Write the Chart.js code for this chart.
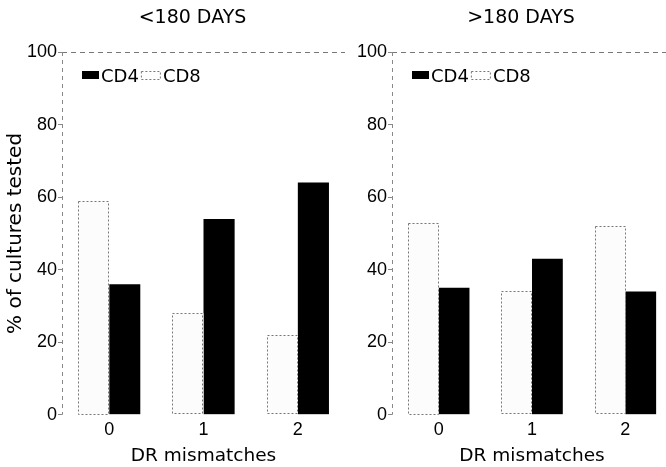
<!DOCTYPE html>
<html lang="en">
<head>
  <meta charset="UTF-8">
  <title>CD4 / CD8 cultures by DR mismatches</title>
  <script src="https://cdn.jsdelivr.net/npm/chart.js"></script>
  <style>
    html, body { margin: 0; padding: 0; background: #fff; }
    body { width: 666px; height: 467px; overflow: hidden; position: relative; }
    .panel { position: absolute; top: 0; height: 467px; }
  </style>
</head>
<body>
  <div class="panel" style="left:0; width:345px;"><canvas id="early"></canvas></div>
  <div class="panel" style="left:330px; width:342px;"><canvas id="late"></canvas></div>

  <script>
    // values (% of cultures tested)
    const mismatches = ['0', '1', '2'];
    const seriesNames = ['CD8', 'CD4'];
    const earlyCD8 = [59, 28, 22];
    const earlyCD4 = [36, 54, 64];
    const lateCD8 = [53, 34, 52];
    const lateCD4 = [35, 43, 34];
    const yTicks = [0, 20, 40, 60, 80, 100];

    Chart.defaults.font.family = '"DejaVu Sans", sans-serif';
    Chart.defaults.color = '#000';
    const digitFont = '"Liberation Sans", sans-serif';

    // dotted outline for the open (CD8) bars
    const dashedOutline = {
      id: 'dashedOutline',
      afterDatasetsDraw(chart) {
        const ctx = chart.ctx;
        chart.data.datasets.forEach((ds, i) => {
          if (!ds.dashed) return;
          chart.getDatasetMeta(i).data.forEach(bar => {
            const { x, y, base, width } = bar.getProps(['x', 'y', 'base', 'width'], true);
            ctx.save();
            ctx.strokeStyle = '#777';
            ctx.lineWidth = 1;
            ctx.setLineDash([2, 2]);
            ctx.strokeRect(Math.round(x - width / 2) + 0.5, Math.round(y) + 0.5,
                           Math.round(width) - 1, Math.round(base - y) - 1);
            ctx.restore();
          });
        });
      }
    };

    // dotted left axis line
    const axisLine = {
      id: 'axisLine',
      beforeDatasetsDraw(chart) {
        const { ctx, chartArea } = chart;
        ctx.save();
        ctx.strokeStyle = '#888';
        ctx.lineWidth = 1;
        ctx.setLineDash([4, 4]);
        ctx.beginPath();
        ctx.moveTo(chartArea.left + 0.5, chartArea.top);
        ctx.lineTo(chartArea.left + 0.5, chartArea.bottom);
        ctx.stroke();
        ctx.restore();
      }
    };

    // panel heading, a little left of the plot centre as in the figure
    const panelHeading = {
      id: 'panelHeading',
      afterDraw(chart, args, opts) {
        const { ctx, chartArea } = chart;
        ctx.save();
        ctx.font = '19px "DejaVu Sans"';
        ctx.textAlign = 'center';
        ctx.textBaseline = 'middle';
        ctx.fillStyle = '#000';
        ctx.fillText(opts.text, (chartArea.left + chartArea.right) / 2 - 11, 18);
        ctx.restore();
      }
    };

    // legend drawn inside the plot, CD4 first
    const innerLegend = {
      id: 'innerLegend',
      afterDraw(chart) {
        const { ctx, chartArea } = chart;
        let x = chartArea.left + 20;
        const y = chartArea.top + 23;
        ctx.save();
        ctx.font = '18px "DejaVu Sans"';
        ctx.textBaseline = 'middle';
        ctx.fillStyle = '#000';
        chart.data.datasets.slice().reverse().forEach(ds => {
          const w = ds.dashed ? 20 : 17;
          if (ds.dashed) {
            ctx.strokeStyle = '#777';
            ctx.lineWidth = 1;
            ctx.setLineDash([2, 2]);
            ctx.strokeRect(x + 0.5, y - 4 + 0.5, w - 1, 8);
            ctx.setLineDash([]);
          } else {
            ctx.fillStyle = ds.backgroundColor;
            ctx.fillRect(x, y - 4, w, 8);
          }
          x += w + 2;
          ctx.fillStyle = '#000';
          ctx.fillText(ds.label, x, y + 2);
          x += ctx.measureText(ds.label).width + 2;
        });
        ctx.restore();
      }
    };

    function makePanel(id, title, cd8, cd4, showYTitle) {
      const ctx = document.getElementById(id).getContext('2d');
      return new Chart(ctx, {
        type: 'bar',
        data: {
          labels: mismatches,
          datasets: [
            {
              label: seriesNames[0],
              data: cd8,
              backgroundColor: '#fcfcfc',
              borderWidth: 0,
              dashed: true
            },
            {
              label: seriesNames[1],
              data: cd4,
              backgroundColor: '#000',
              borderWidth: 0
            }
          ]
        },
        options: {
          responsive: true,
          maintainAspectRatio: false,
          animation: false,
          categoryPercentage: 0.66,
          barPercentage: 1.0,
          layout: { padding: { left: 0, right: 0, top: 52, bottom: 0 } },
          plugins: {
            legend: { display: false },
            tooltip: { enabled: false },
            title: { display: false },
            panelHeading: { text: title }
          },
          scales: {
            x: {
              grid: { display: false, drawTicks: false },
              border: { display: false },
              ticks: { font: { family: digitFont, size: 18, lineHeight: 1 }, padding: 6 },
              title: {
                display: true,
                text: 'DR mismatches',
                font: { size: 18.5 },
                padding: { top: 0, bottom: 0 }
              }
            },
            y: {
              min: 0,
              max: 100,
              afterBuildTicks: scale => { scale.ticks = yTicks.map(v => ({ value: v })); },
              afterFit: scale => { scale.width = 62; },
              grid: {
                drawOnChartArea: true,
                color: c => (c.tick && c.tick.value === 100) ? '#777' : 'rgba(0,0,0,0)',
                tickColor: '#888',
                tickLength: 4,
                lineWidth: 1
              },
              border: { display: false, dash: [5, 4] },
              ticks: { font: { family: digitFont, size: 18 }, padding: 1 },
              title: {
                display: showYTitle,
                text: '% of cultures tested',
                font: { size: 20 },
                padding: { top: 4, bottom: 0 }
              }
            }
          }
        },
        plugins: [axisLine, dashedOutline, innerLegend, panelHeading]
      });
    }

    makePanel('early', '<180 DAYS', earlyCD8, earlyCD4, true);
    makePanel('late', '>180 DAYS', lateCD8, lateCD4, false);
  </script>
</body>
</html>
